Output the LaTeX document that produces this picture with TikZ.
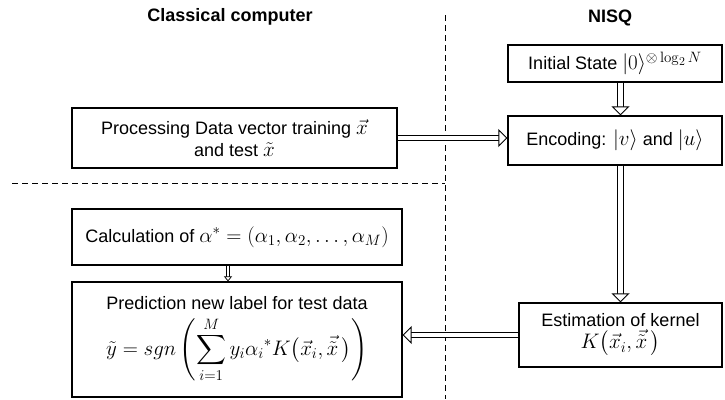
\RequirePackage{fix-cm}
\documentclass[tikz,border=0pt]{standalone}
\usepackage{amsmath}
\usepackage[no-math]{fontspec}
\setmainfont{Liberation Sans}
\DeclareMathSizes{18}{21}{15}{12}
\usetikzlibrary{arrows.meta}

\begin{document}
\begin{tikzpicture}[x=1pt, y=-1pt, font=\fontsize{18}{22}\selectfont,
  box/.style={draw, line width=1.2pt, inner sep=2pt, align=center},
  dbl/.style={double, double distance=4.5pt, line width=0.9pt,
    -{Triangle[open, fill=white, length=9pt, width=18pt, line width=0.9pt]}},
  sep/.style={dash pattern=on 6pt off 4pt, line width=0.9pt}]
\useasboundingbox (0,0) rectangle (725,399);

\node[font=\fontsize{18}{22}\selectfont\bfseries] (cc) at (230,17) {Classical computer};
\node[font=\fontsize{18}{22}\selectfont\bfseries] (nisq) at (610,18) {NISQ};

\node[box, minimum width=214pt, minimum height=37pt] (init) at (615,63.5) {Initial State $|0\rangle^{\otimes \log_2 N}$};
\node[box, minimum width=214pt, minimum height=49pt] (enc) at (615,140.5) {Encoding: $|v\rangle$ and $|u\rangle$};
\node[box, minimum width=325pt, minimum height=60pt] (proc) at (234.5,138) {Processing Data vector training $\vec{x}$\\ and test $\tilde{x}$};
\node[box, minimum width=330pt, minimum height=56pt] (calc) at (237,237) {Calculation of $\alpha^{*} = (\alpha_1, \alpha_2, \dots, \alpha_M)$};
\node[box, minimum width=330pt, minimum height=115pt] (pred) at (237,339.5) {Prediction new label for test data\\[6pt]
  $\displaystyle \tilde{y} = sgn\left(\sum_{i=1}^{M} y_i{\alpha_i}^{*}K\bigl(\vec{x}_i,\vec{\tilde{x}}\,\bigr)\right)$};
\node[box, minimum width=203pt, minimum height=64pt] (est) at (620.5,335) {Estimation of kernel\\ $K\bigl(\vec{x}_i,\vec{\tilde{x}}\,\bigr)$};

% dividers
\coordinate (vtop) at (445,15);
\coordinate (vbot) at (445,399);
\coordinate (hleft) at (12,183);
\coordinate (hright) at (445,183);
\draw[sep] (vtop) -- (vbot);
\draw[sep] (hleft) -- (hright);

\draw[dbl] (est.north |- init.south) -- (est.north |- enc.north);
\draw[dbl] (proc.east) -- (proc.east -| enc.west);
\draw[dbl] (est.north |- enc.south) -- (est.north);
\draw[dbl] (est.west) -- (est.west -| pred.east);
\draw[dbl, double distance=2.5pt, line width=0.7pt,
  -{Triangle[open, fill=white, length=5pt, width=8pt, line width=0.7pt]}]
  ([xshift=-9pt]calc.south) -- ([xshift=-9pt]pred.north);
\end{tikzpicture}
\end{document}
